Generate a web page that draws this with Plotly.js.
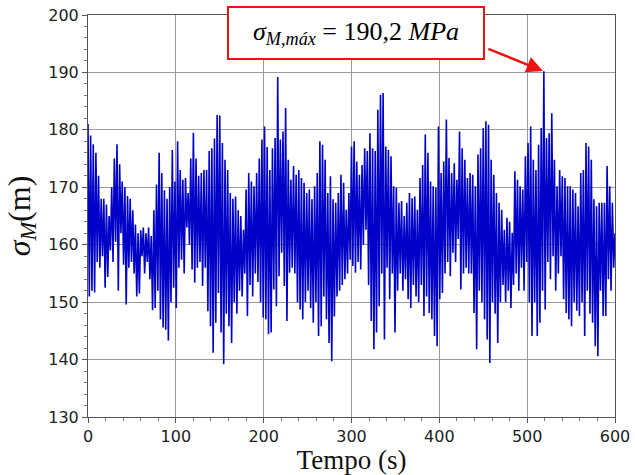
<!DOCTYPE html>
<html>
<head>
<meta charset="utf-8">
<script src="https://cdn.plot.ly/plotly-3.0.1.min.js"></script>
<style>html,body{margin:0;padding:0;background:#fff;}#chart{width:635px;height:475px;}</style>
</head>
<body>
<div id="chart"></div>
<script>
// Sampling step (s) between successive local maxima; minima lie half-way between.
const peakStep = 3;
// Local maxima of sigma_M (MPa), t = 0, 3, 6, ... 600 s
const highs = [
  181, 179, 177.5, 176, 172, 168, 168, 167, 165, 170, 175, 177.5, 174, 171, 170, 168.5, 168, 166, 163.5, 162, 162.5, 163, 162, 163, 161.5, 166, 170.5, 176, 172.5, 169.5, 168, 170, 176.5, 171,
  178, 173, 171.3, 171.6, 169, 175, 179.5, 175, 172, 172.5, 173, 173, 176.3, 176.8, 178.5, 182.6, 182.5, 177.7, 174.8, 173, 169, 168, 168.4, 166, 165, 162.6, 169.6, 172.5, 171, 170.2, 172.5, 175, 178.3,
  180.6, 177, 173, 176.8, 178.6, 189.2, 178.3, 179.7, 183.8, 174.8, 171.3, 173.7, 172.2, 173, 171.6, 170.8, 169, 169.6, 167.9, 170.2, 172.5, 178, 177.4, 174.8, 169, 171.9, 167.9, 167.3, 169, 172.2, 170.8, 166.1, 169,
  177.1, 178, 174.5, 172.2, 173.9, 176.8, 176.3, 179.4, 176.8, 176.3, 183.5, 186.1, 186.4, 177.1, 176.5, 175.4, 170.2, 169.9, 167.3, 167.6, 165, 167.3, 169, 168.1, 168.4, 166.1, 171.6, 173.9, 179.2, 176, 171, 170.2, 169.9, 180.6,
  172.5, 174.5, 181.8, 175.1, 172.5, 174.2, 171.3, 179.7, 176.8, 174.8, 171.6, 172.5, 172.2, 170.2, 175.7, 176.8, 180.3, 181.5, 180.9, 174.8, 172.2, 169, 167.3, 166.1, 162.6, 164.7, 164, 162.1, 172.8, 171.3, 170.2, 169.6, 175.4,
  177.7, 180.6, 174.8, 173, 177.4, 180.3, 190.2, 178.6, 179.4, 182.9, 174.8, 170.2, 173, 171.9, 171.6, 170.2, 170.2, 169.6, 169, 166.7, 172.5, 173, 177.7, 177.1, 174.8, 167.9, 166.7, 167.3, 167.3, 167.3, 173.7, 170.2, 167.3, 162
];
// Local minima of sigma_M (MPa), t = 1.5, 4.5, ... 598.5 s
const lows = [
  151, 152, 151.7, 157, 156, 158, 152.5, 154.4, 159, 157, 160.5, 152, 162, 156.5, 149.6, 156, 157, 155, 151, 151.5, 158, 155, 157, 154, 148.6, 149, 152, 147, 145.6, 145.2, 143.3, 150, 152.5, 149,
  156, 157.4, 155, 163, 160, 155.7, 153.4, 156, 157, 152.8, 156, 148.4, 145.8, 141.2, 146.4, 151.6, 144.7, 139.2, 148, 145.8, 142.9, 150, 148, 152, 151, 155, 147.6, 153, 151, 155, 153.5, 150, 147.3,
  147, 144.4, 144.7, 152.2, 149.3, 154.5, 158.6, 152.8, 146.7, 155.1, 156, 155, 150, 148.7, 147, 150, 152, 149, 146.4, 150, 144.1, 145.8, 151, 147, 142.9, 139.7, 147.5, 151, 152, 153, 154, 155, 157.4,
  156.3, 155.1, 157, 155.7, 160, 162.6, 153, 146.7, 141.8, 144.7, 149.3, 155, 143.5, 156, 150.5, 155, 144.7, 152, 155, 152, 154, 150.5, 149, 153, 151, 150, 153, 147.6, 151, 148.1, 147, 144.1, 142.3, 150.5,
  151.6, 155, 157, 154.5, 158.6, 157, 161, 152.2, 155, 156, 155, 155, 148.1, 141.8, 152, 150, 147, 143.5, 139.4, 150, 148, 142.9, 150, 153, 150, 152, 149, 153, 155, 152, 156, 152, 157,
  150, 144.1, 150, 144.1, 146.4, 152, 148.7, 157, 154, 158, 152, 155, 158, 150.5, 148.1, 147, 145.8, 150, 148.5, 147.6, 150, 144.1, 152, 148, 146.4, 142.3, 140.6, 152, 147.6, 147.6, 154, 152, 156
];
const xTickVals = [0, 100, 200, 300, 400, 500, 600];
const yTickVals = [130, 140, 150, 160, 170, 180, 190, 200];
const peakLabel = '<i>σ</i><sub><i>M,máx</i></sub> = 190,2 <i>MPa</i>';

const t = [], s = [];
for (let i = 0; i < highs.length; i++) {
  t.push(i * peakStep); s.push(highs[i]);
  if (i < lows.length) { t.push(i * peakStep + peakStep / 2); s.push(lows[i]); }
}
let iMax = 0;
for (let i = 1; i < s.length; i++) if (s[i] > s[iMax]) iMax = i;

const trace = {
  x: t, y: s, type: 'scatter', mode: 'lines',
  line: {color: '#0000c8', width: 1.6},
  hoverinfo: 'skip'
};

const layout = {
  width: 635, height: 475,
  margin: {l: 88, r: 20, t: 15, b: 58},
  paper_bgcolor: '#fff', plot_bgcolor: '#fff',
  showlegend: false,
  font: {family: 'DejaVu Sans', size: 16, color: '#222'},
  xaxis: {
    range: [0, 600], tickvals: xTickVals, ticktext: xTickVals.map(String),
    showgrid: true, gridcolor: '#9a9a9a', gridwidth: 1,
    showline: true, linecolor: '#555', linewidth: 1, mirror: true,
    ticks: 'outside', ticklen: 5, tickcolor: '#555',
    minor: {dtick: 20, ticks: 'outside', ticklen: 3, tickcolor: '#777', showgrid: false},
    zeroline: false,
    tickfont: {family: 'DejaVu Sans', size: 16, color: '#222'},
    title: {text: 'Tempo (s)', font: {family: 'Liberation Serif', size: 27, color: '#111'}, standoff: 7}
  },
  yaxis: {
    range: [130, 200], tickvals: yTickVals, ticktext: yTickVals.map(String),
    showgrid: true, gridcolor: '#9a9a9a', gridwidth: 1,
    showline: true, linecolor: '#555', linewidth: 1, mirror: true,
    ticks: 'outside', ticklen: 5, tickcolor: '#555',
    minor: {dtick: 2, ticks: 'outside', ticklen: 3, tickcolor: '#777', showgrid: false},
    zeroline: false,
    tickfont: {family: 'DejaVu Sans', size: 16, color: '#222'},
    title: {text: '<i>σ</i><sub><i>M</i></sub>(m)', font: {family: 'Liberation Serif', size: 32, color: '#111'}, standoff: 8}
  },
  annotations: [
    {
      xref: 'paper', yref: 'paper', x: 0.5085, y: 0.955,
      xanchor: 'center', yanchor: 'middle',
      text: peakLabel, showarrow: false,
      font: {family: 'Liberation Serif', size: 26, color: '#000'},
      bgcolor: '#fff', bordercolor: '#ee1111', borderwidth: 2, borderpad: 2,
      width: 250, height: 46
    },
    {
      x: t[iMax], y: s[iMax], xref: 'x', yref: 'y',
      text: '', showarrow: true, axref: 'pixel', ayref: 'pixel',
      ax: -57, ay: -23,
      arrowcolor: '#ee1111', arrowwidth: 2.5, arrowhead: 2, arrowsize: 1.3, standoff: 1
    }
  ]
};

Plotly.newPlot('chart', [trace], layout, {staticPlot: true, displayModeBar: false});
</script>
</body>
</html>
